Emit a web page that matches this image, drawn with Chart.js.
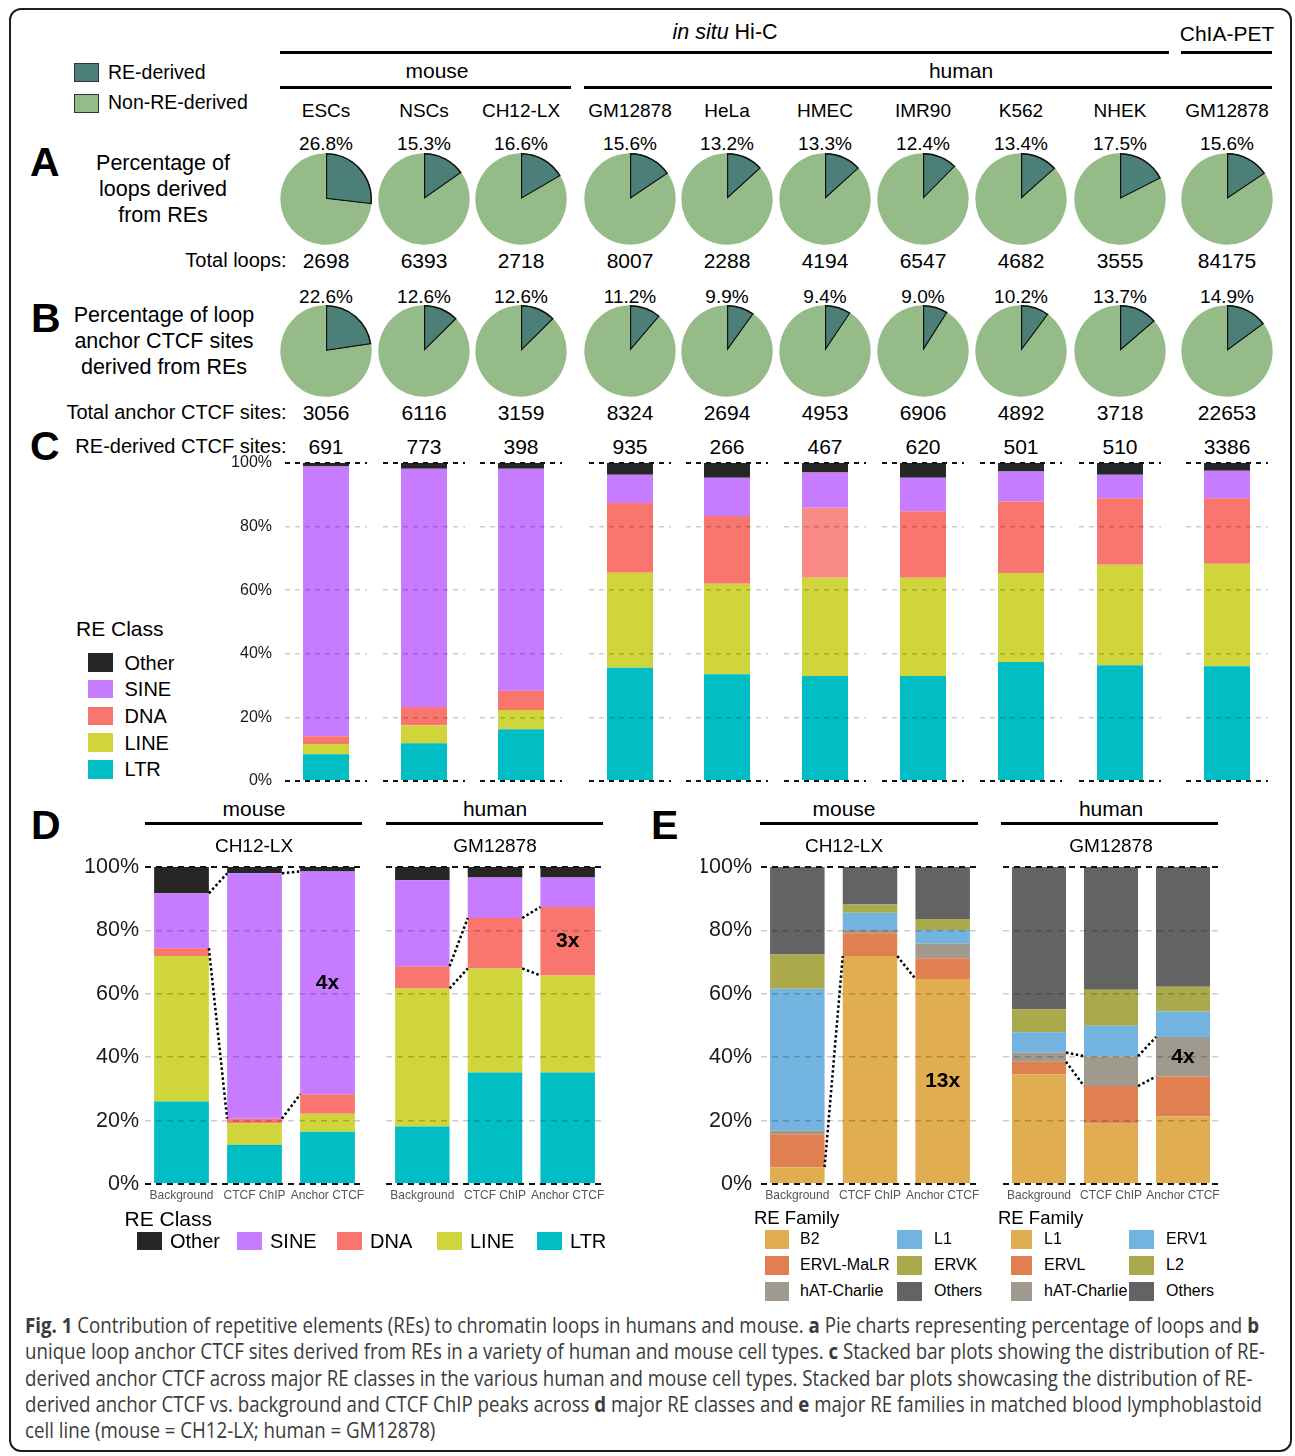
<!DOCTYPE html>
<html>
<head>
<meta charset="utf-8">
<script src="https://cdn.jsdelivr.net/npm/chart.js@4.4.1/dist/chart.umd.min.js"></script>
<style>
body { margin: 0; background: #fff; }
#fig { position: relative; width: 1295px; height: 1456px; overflow: hidden; font-family: "Liberation Sans", Arial, sans-serif; color: #000; }
#frame { position: absolute; left: 9px; top: 8px; width: 1283px; height: 1444px; border: 2px solid #1e1e1e; border-radius: 12px; box-sizing: border-box; }
.t { position: absolute; white-space: nowrap; line-height: 1; }
.hr { position: absolute; height: 3px; background: #000; }
.sw { position: absolute; box-sizing: border-box; }
canvas { position: absolute; }
#cap { position: absolute; left: 25px; top: 1312px; font-family: "Open Sans", sans-serif; font-size: 21px; line-height: 26.3px; color: #3b3b3b; transform-origin: 0 0; }
#cap div { white-space: nowrap; }
</style>
</head>
<body>
<div id="fig"><div id="frame"></div></div>
<script>
// cell types (mouse x3, human in situ Hi-C x6, ChIA-PET x1)
const cells = ['ESCs', 'NSCs', 'CH12-LX', 'GM12878', 'HeLa', 'HMEC', 'IMR90', 'K562', 'NHEK', 'GM12878'];
const loopPct = [26.8, 15.3, 16.6, 15.6, 13.2, 13.3, 12.4, 13.4, 17.5, 15.6];
const totalLoops = [2698, 6393, 2718, 8007, 2288, 4194, 6547, 4682, 3555, 84175];
const anchorPct = [22.6, 12.6, 12.6, 11.2, 9.9, 9.4, 9.0, 10.2, 13.7, 14.9];
const totalAnchor = [3056, 6116, 3159, 8324, 2694, 4953, 6906, 4892, 3718, 22653];
const reSites = [691, 773, 398, 935, 266, 467, 620, 501, 510, 3386];

// C : RE class share (%) of RE-derived anchor CTCF sites
const classNames = ['LTR', 'LINE', 'DNA', 'SINE', 'Other'];
const cLTR   = [8.4, 11.9, 16.3, 35.6, 33.6, 33.0, 33.0, 37.4, 36.4, 36.1];
const cLINE  = [3.2, 5.6, 6.0, 29.9, 28.4, 30.9, 30.9, 28.0, 31.6, 32.2];
const cDNA   = [2.5, 5.8, 6.1, 21.9, 21.3, 22.0, 20.9, 22.5, 20.9, 20.6];
const cSINE  = [84.8, 74.9, 69.8, 8.9, 12.1, 11.1, 10.6, 9.4, 7.4, 8.7];
const cOther = [1.1, 1.8, 1.8, 3.7, 4.6, 3.0, 4.6, 2.7, 3.7, 2.4];

const yTickLabels = ['0%', '20%', '40%', '60%', '80%', '100%'];

// D : RE classes, background / CTCF ChIP / anchor CTCF
const groups = ['Background', 'CTCF ChIP', 'Anchor CTCF'];
const dMouseLTR = [26.0, 12.4, 16.5];
const dMouseLINE = [45.9, 6.8, 5.7];
const dMouseDNA = [2.5, 1.4, 6.1];
const dMouseSINE = [17.3, 77.4, 70.3];
const dMouseOther = [8.3, 2.0, 1.4];
const dHumanLTR = [18.1, 35.2, 35.2];
const dHumanLINE = [43.6, 32.8, 30.6];
const dHumanDNA = [7.0, 15.9, 21.6];
const dHumanSINE = [27.1, 12.8, 9.3];
const dHumanOther = [4.2, 3.3, 3.3];

// E : RE families
const eMouseFam = ['B2', 'ERVL-MaLR', 'hAT-Charlie', 'L1', 'ERVK', 'Others'];
const eMouseB2 = [5.3, 71.9, 64.7];
const eMouseMaLR = [10.4, 7.2, 6.5];
const eMouseHAT = [1.2, 1.0, 4.7];
const eMouseL1 = [44.7, 5.5, 4.2];
const eMouseERVK = [10.8, 2.6, 3.5];
const eMouseOthers = [27.6, 11.8, 16.4];
const eHumanFam = ['L1', 'ERVL', 'hAT-Charlie', 'ERV1', 'L2', 'Others'];
const eHumanL1 = [34.6, 19.1, 21.3];
const eHumanERVL = [4.0, 11.8, 12.6];
const eHumanHAT = [2.9, 9.4, 12.5];
const eHumanERV1 = [6.4, 9.6, 8.0];
const eHumanL2 = [7.2, 11.4, 7.8];
const eHumanOthers = [44.9, 38.7, 37.8];

const folds = ['4x', '3x', '13x', '4x'];

// colours
const RE_COL = '#4b7f77', NON_COL = '#95bb88';
const classCol = { LTR: '#00bec4', LINE: '#cfd53b', DNA: '#f8766d', SINE: '#c77cff', Other: '#262626' };
const famCol = ['#e0ad50', '#e07f4f', '#a09a8e', '#72b3e0', '#aaa94b', '#636363'];

Chart.defaults.font.family = '"Liberation Sans", Arial, sans-serif';
Chart.defaults.color = '#1a1a1a';

const fig = document.getElementById('fig');

function txt(x, y, s, size, align, extra) {
    const d = document.createElement('div');
    d.className = 't';
    d.innerHTML = s;
    d.style.left = x + 'px';
    d.style.top = y + 'px';
    d.style.fontSize = size + 'px';
    const tx = align === 'c' ? '-50%' : (align === 'r' ? '-100%' : '0');
    d.style.transform = 'translate(' + tx + ',-50%)';
    if (extra) Object.assign(d.style, extra);
    fig.appendChild(d);
}
function hline(x1, x2, y) {
    const d = document.createElement('div');
    d.className = 'hr';
    d.style.left = x1 + 'px';
    d.style.top = (y - 1.5) + 'px';
    d.style.width = (x2 - x1) + 'px';
    fig.appendChild(d);
}
function swatch(x, y, w, h, col, border) {
    const d = document.createElement('div');
    d.className = 'sw';
    d.style.left = x + 'px';
    d.style.top = (y - h / 2) + 'px';
    d.style.width = w + 'px';
    d.style.height = h + 'px';
    d.style.background = col;
    if (border) d.style.border = '1px solid #333';
    fig.appendChild(d);
}
function mkCanvas(left, top, w, h) {
    const c = document.createElement('canvas');
    c.width = w;
    c.height = h;
    c.style.left = left + 'px';
    c.style.top = top + 'px';
    fig.appendChild(c);
    return c;
}

// ---------- header ----------
const colX = [326, 424, 521, 630, 727, 825, 923, 1021, 1120, 1227];

txt(725, 33, '<i>in situ</i> Hi-C', 21.5, 'c');
txt(1227, 33, 'ChIA-PET', 21, 'c');
hline(280, 1169, 52);
hline(1181, 1272, 52);
txt(437, 70, 'mouse', 21, 'c');
txt(961, 70, 'human', 21, 'c');
hline(280, 571, 87);
hline(584, 1272, 87);

swatch(74, 72.5, 25, 19, RE_COL, true);
swatch(74, 103.5, 25, 19, NON_COL, true);
txt(108, 72.5, 'RE-derived', 19.5, 'l');
txt(108, 103, 'Non-RE-derived', 19.5, 'l');

txt(30, 162, 'A', 41, 'l', { fontWeight: 'bold' });
txt(31, 318, 'B', 41, 'l', { fontWeight: 'bold' });
txt(30, 446, 'C', 41, 'l', { fontWeight: 'bold' });

['Percentage of', 'loops derived', 'from REs'].forEach((s, i) => txt(163, 164 + i * 26, s, 21.5, 'c'));
['Percentage of loop', 'anchor CTCF sites', 'derived from REs'].forEach((s, i) => txt(164, 315.5 + i * 26, s, 21.5, 'c'));
txt(286.5, 260, 'Total loops:', 20, 'r');
txt(286.5, 412, 'Total anchor CTCF sites:', 20, 'r');
txt(286.5, 446, 'RE-derived CTCF sites:', 20, 'r');

const pieOpts = {
    responsive: false,
    animation: false,
    events: [],
    plugins: { legend: { display: false }, tooltip: { enabled: false } }
};
function pie(cx, cy, pct) {
    const c = mkCanvas(cx - 46, cy - 46, 92, 92);
    new Chart(c, {
        type: 'pie',
        data: {
            labels: ['RE-derived', 'Non-RE-derived'],
            datasets: [{
                data: [pct, 100 - pct],
                backgroundColor: [RE_COL, NON_COL],
                borderColor: ['#111', NON_COL],
                borderWidth: [1.2, 0],
                borderAlign: 'inner'
            }]
        },
        options: pieOpts
    });
}

cells.forEach((name, i) => {
    const x = colX[i];
    txt(x, 110, name, 19, 'c');
    txt(x, 143, loopPct[i].toFixed(1) + '%', 19, 'c');
    pie(x, 199, loopPct[i]);
    txt(x, 260, String(totalLoops[i]), 21, 'c');
    txt(x, 296, anchorPct[i].toFixed(1) + '%', 19, 'c');
    pie(x, 351, anchorPct[i]);
    txt(x, 412, String(totalAnchor[i]), 21, 'c');
    txt(x, 446, String(reSites[i]), 21, 'c');
});

// ---------- shared bar helpers ----------
const isEdge = c => c.tick && (c.tick.value === 0 || c.tick.value === 100);

function yScale(show, width, pad, size, dash) {
    return {
        stacked: true,
        min: 0,
        max: 100,
        afterFit: s => {
            s.width = width;
            s.paddingTop = 0;
            s.paddingBottom = 0;
        },
        ticks: {
            display: show,
            stepSize: 20,
            padding: pad,
            color: '#1a1a1a',
            font: { size: size },
            callback: v => yTickLabels[v / 20]
        },
        grid: {
            z: 1,
            drawTicks: false,
            color: c => isEdge(c) ? '#111' : 'rgba(0,0,0,0.2)',
            lineWidth: c => isEdge(c) ? 2 : 1.5
        },
        border: { display: false, dash: dash }
    };
}

const linkPlugin = {
    id: 'links',
    afterDatasetsDraw(chart, args, o) {
        if (!o || o.dataset == null) return;
        const meta = chart.getDatasetMeta(o.dataset);
        const ctx = chart.ctx;
        ctx.save();
        ctx.strokeStyle = '#000';
        ctx.lineWidth = 2.5;
        ctx.setLineDash([2.5, 2.5]);
        for (let i = 0; i + 1 < meta.data.length; i++) {
            const a = meta.data[i], b = meta.data[i + 1];
            const ax = a.x + a.width / 2, bx = b.x - b.width / 2;
            o.edges.forEach(e => {
                ctx.beginPath();
                ctx.moveTo(ax, e === 'top' ? a.y : a.base);
                ctx.lineTo(bx, e === 'top' ? b.y : b.base);
                ctx.stroke();
            });
        }
        if (o.fold) {
            const last = meta.data[meta.data.length - 1];
            ctx.setLineDash([]);
            ctx.fillStyle = '#000';
            ctx.font = 'bold 21px "Liberation Sans", Arial, sans-serif';
            ctx.textAlign = 'center';
            ctx.textBaseline = 'middle';
            ctx.fillText(o.fold, last.x, (last.y + last.base) / 2);
        }
        ctx.restore();
    }
};

// ---------- C : one facet per cell type ----------
// plot area runs from y 463 to 781
cells.forEach((name, i) => {
    const first = i === 0;
    const yw = first ? 60 : 0;
    const c = mkCanvas(colX[i] - 41 - yw, 451, 82 + yw, 342);
    const vals = { LTR: cLTR, LINE: cLINE, DNA: cDNA, SINE: cSINE, Other: cOther };
    new Chart(c, {
        type: 'bar',
        data: {
            labels: [name],
            datasets: classNames.map(k => ({
                label: k,
                data: [vals[k][i]],
                backgroundColor: (k === 'DNA' && name === 'HMEC') ? '#f98b84' : classCol[k],
                borderWidth: 0,
                categoryPercentage: 1,
                barPercentage: 46 / 82
            }))
        },
        options: {
            responsive: false,
            animation: false,
            events: [],
            layout: { padding: { top: 12, bottom: 12, left: 0, right: 0 } },
            plugins: { legend: { display: false }, tooltip: { enabled: false } },
            scales: {
                x: { stacked: true, display: false },
                y: yScale(first, yw, 13, 16, [5, 5])
            }
        }
    });
});

// C legend
txt(76, 628, 'RE Class', 21, 'l');
['Other', 'SINE', 'DNA', 'LINE', 'LTR'].forEach((k, i) => {
    const y = 662.5 + i * 26.7;
    swatch(88, y, 25, 18.5, classCol[k]);
    txt(124.5, y, k, 20, 'l');
});

// ---------- D and E panels (plot area y 867 to 1184) ----------
function panel(left, areaW, yw, tickPad, sets, colors, names, link) {
    const c = mkCanvas(left - yw, 853, areaW + yw, 355);
    new Chart(c, {
        type: 'bar',
        plugins: [linkPlugin],
        data: {
            labels: groups,
            datasets: sets.map((d, k) => ({
                label: names[k],
                data: d,
                backgroundColor: colors[k],
                borderWidth: 0,
                categoryPercentage: 1,
                barPercentage: 0.75
            }))
        },
        options: {
            responsive: false,
            animation: false,
            events: [],
            layout: { padding: { top: 14, bottom: 0, left: 0, right: 0 } },
            plugins: { legend: { display: false }, tooltip: { enabled: false }, links: link },
            scales: {
                x: {
                    stacked: true,
                    afterFit: s => {
                        s.height = 24;
                        s.paddingLeft = 0;
                        s.paddingRight = 0;
                    },
                    grid: { display: false, drawTicks: false },
                    border: { display: false },
                    ticks: { padding: 4, color: '#555', font: { size: 12 }, maxRotation: 0, autoSkip: false }
                },
                y: yScale(yw > 0, yw, tickPad, 21.5, [6, 5])
            }
        }
    });
}

const dColors = classNames.map(k => classCol[k]);
panel(145, 219, 60, 6, [dMouseLTR, dMouseLINE, dMouseDNA, dMouseSINE, dMouseOther], dColors, classNames,
    { dataset: 3, edges: ['top', 'bottom'], fold: folds[0] });
panel(386, 218, 0, 0, [dHumanLTR, dHumanLINE, dHumanDNA, dHumanSINE, dHumanOther], dColors, classNames,
    { dataset: 2, edges: ['top', 'bottom'], fold: folds[1] });
panel(761, 218, 60, 9, [eMouseB2, eMouseMaLR, eMouseHAT, eMouseL1, eMouseERVK, eMouseOthers], famCol, eMouseFam,
    { dataset: 0, edges: ['top'], fold: folds[2] });
panel(1003, 216, 0, 0, [eHumanL1, eHumanERVL, eHumanHAT, eHumanERV1, eHumanL2, eHumanOthers], famCol, eHumanFam,
    { dataset: 2, edges: ['top', 'bottom'], fold: folds[3] });

// D / E titles
txt(31, 825, 'D', 41, 'l', { fontWeight: 'bold' });
txt(651, 825, 'E', 41, 'l', { fontWeight: 'bold' });
[[254, 495], [844, 1111]].forEach(([m, h]) => {
    txt(m, 808, 'mouse', 21, 'c');
    txt(h, 808, 'human', 21, 'c');
    txt(m, 845, 'CH12-LX', 19, 'c');
    txt(h, 845, 'GM12878', 19, 'c');
});
hline(145, 362, 823);
hline(386, 603, 823);
hline(760, 978, 823);
hline(1001, 1218, 823);

// D legend
txt(124.5, 1218, 'RE Class', 21, 'l');
['Other', 'SINE', 'DNA', 'LINE', 'LTR'].forEach((k, i) => {
    swatch(137 + i * 100, 1241, 24.5, 18.5, classCol[k]);
    txt(170 + i * 100, 1241, k, 20, 'l');
});

// E legends: column 1 holds the first three families, column 2 the last three
const rowY = [1239, 1265, 1291];
function famLegend(titleX, sq1, sw1, tx1, sq2, tx2, names) {
    txt(titleX, 1217.5, 'RE Family', 18.5, 'l');
    names.forEach((n, k) => {
        const col = k < 3 ? 0 : 1, r = k % 3;
        swatch(col === 0 ? sq1 : sq2, rowY[r], col === 0 ? sw1 : 24.5, 19, famCol[k]);
        txt(col === 0 ? tx1 : tx2, rowY[r], n, 16, 'l');
    });
}
famLegend(754, 765, 24, 800, 897, 934, eMouseFam);
famLegend(998, 1011, 21, 1044, 1129, 1166, eHumanFam);

// ---------- caption ----------
const cap = document.createElement('div');
cap.id = 'cap';
cap.innerHTML = [
    '<b>Fig. 1</b> Contribution of repetitive elements (REs) to chromatin loops in humans and mouse. <b>a</b> Pie charts representing percentage of loops and <b>b</b>',
    'unique loop anchor CTCF sites derived from REs in a variety of human and mouse cell types. <b>c</b> Stacked bar plots showing the distribution of RE-',
    'derived anchor CTCF across major RE classes in the various human and mouse cell types. Stacked bar plots showcasing the distribution of RE-',
    'derived anchor CTCF vs. background and CTCF ChIP peaks across <b>d</b> major RE classes and <b>e</b> major RE families in matched blood lymphoblastoid',
    'cell line (mouse = CH12-LX; human = GM12878)'
].map(l => '<div><span>' + l + '</span></div>').join('');
fig.appendChild(cap);
const firstW = cap.querySelector('span').getBoundingClientRect().width;
cap.style.transform = 'scaleX(' + (1234 / firstW) + ')';
</script>
</body>
</html>
